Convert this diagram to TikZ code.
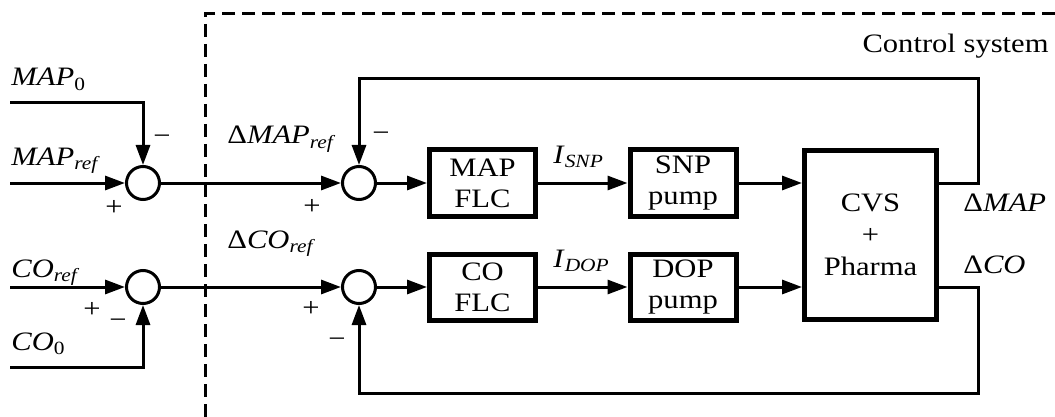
\documentclass[tikz,border=0pt]{standalone}
\usepackage{fontspec}
\setmainfont{Liberation Serif}[FakeStretch=1.15]
\usetikzlibrary{arrows.meta}
\begin{document}
\begin{tikzpicture}[x=0.5pt,y=-0.5pt,
  font=\fontsize{13.3}{15.5}\selectfont,
  sig/.style={line width=1.5pt},
  arr/.style={sig,-{Triangle[length=10pt,width=7pt]}},
  blk/.style={draw,line width=2.5pt,minimum width=53pt,minimum height=33pt,align=center,inner sep=0pt},
  sumc/.style={draw,circle,line width=1.5pt,minimum size=16.5pt,inner sep=0pt},
  lbl/.style={inner sep=0pt,anchor=base west},
  sgn/.style={inner sep=0pt},
  bnd/.style={line width=1.5pt,dash pattern=on 6.5pt off 3.5pt}
]
\useasboundingbox (0,0) rectangle (1055,417);

% dashed boundary of the control system
\coordinate (d1) at (205,417);
\coordinate (d2) at (205,14);
\coordinate (d3) at (1055,14);
\draw[bnd] (d3) -- (d2) -- (d1);
\node[lbl,anchor=base east] (lctl) at (1049,53) {Control system};

% summing junctions
\node[sumc] (s1) at (143,183) {};
\node[sumc] (s2) at (359,183) {};
\node[sumc] (s3) at (143,287) {};
\node[sumc] (s4) at (359,287) {};

% blocks
\node[blk] (mflc) at (482.5,183) {MAP\\FLC};
\node[blk] (snp) at (683,183) {SNP\\pump};
\node[blk] (cflc) at (482.5,287) {CO\\FLC};
\node[blk] (dop) at (683,287) {DOP\\pump};
\node[blk,minimum width=66pt,minimum height=84.5pt,font=\fontsize{13.3}{16}\selectfont] (cvs) at (870.5,235) {CVS\\+\\Pharma};

% input coordinates
\coordinate (m0) at (10,103);
\coordinate (mr) at (10,183);
\coordinate (cr) at (10,287);
\coordinate (c0) at (10,367);
\coordinate (tr) at (978,79);
\coordinate (br) at (978,393);

% connectors
\draw[arr] (m0) -| (s1.north);
\draw[arr] (mr) -- (s1.west);
\draw[arr] (cr) -- (s3.west);
\draw[arr] (c0) -| (s3.south);
\draw[arr] (s1.east) -- (s2.west);
\draw[arr] (s3.east) -- (s4.west);
\draw[arr] (s2.east) -- (mflc.west);
\draw[arr] (mflc.east) -- (snp.west);
\draw[arr] (s4.east) -- (cflc.west);
\draw[arr] (cflc.east) -- (dop.west);
\draw[arr] (snp.east) -- (snp.east -| cvs.west);
\draw[arr] (dop.east) -- (dop.east -| cvs.west);
\draw[arr] (cvs.east |- snp.east) -| (tr) -| (s2.north);
\draw[arr] (cvs.east |- dop.east) -| (br) -| (s4.south);

% labels
\node[lbl] (lmap0) at (11,86) {\textit{MAP}\textsubscript{0}};
\node[lbl] (lmapr) at (11,165) {\textit{MAP}\textsubscript{\textit{ref}}};
\node[lbl] (lcor) at (11,277) {\textit{CO}\textsubscript{\textit{ref}}};
\node[lbl] (lco0) at (11,350) {\textit{CO}\textsubscript{0}};
\node[lbl] (ldmr) at (227,144) {Δ\textit{MAP}\textsubscript{\textit{ref}}};
\node[lbl] (ldcr) at (227,248) {Δ\textit{CO}\textsubscript{\textit{ref}}};
\node[lbl] (lisnp) at (553,163) {\textit{I}\textsubscript{\textit{SNP}}};
\node[lbl] (lidop) at (553,267) {\textit{I}\textsubscript{\textit{DOP}}};
\node[lbl] (ldmap) at (963,212) {Δ\textit{MAP}};
\node[lbl] (ldco) at (963,273) {Δ\textit{CO}};

% signs
\node[sgn] (g1) at (162,140) {−};
\node[sgn] (g2) at (114,208) {+};
\node[sgn] (g3) at (381,137) {−};
\node[sgn] (g4) at (312,207) {+};
\node[sgn] (g5) at (92,310) {+};
\node[sgn] (g6) at (118,324) {−};
\node[sgn] (g7) at (311,309) {+};
\node[sgn] (g8) at (337,343) {−};
\end{tikzpicture}
\end{document}
